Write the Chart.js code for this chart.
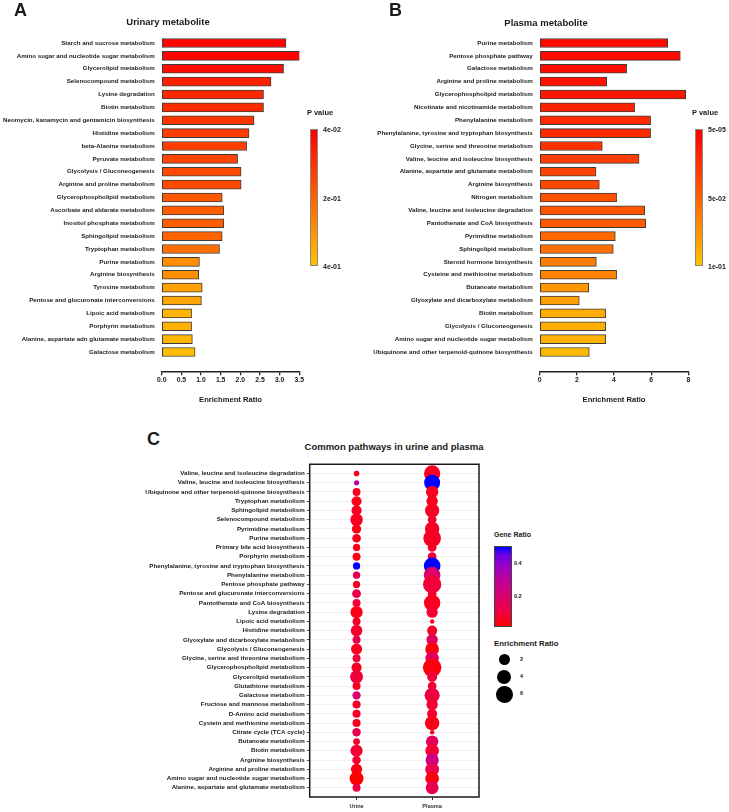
<!DOCTYPE html>
<html><head><meta charset="utf-8">
<script src="https://cdn.jsdelivr.net/npm/chart.js@4.4.0/dist/chart.umd.min.js"></script>
<style>
html,body{margin:0;padding:0;background:#fff;}
#root{position:relative;width:729px;height:812px;overflow:hidden;font-family:"Liberation Sans",Arial,sans-serif;color:#1a1a1a;background:#fff;}
.abs{position:absolute;white-space:nowrap;}
canvas{position:absolute;}
</style></head>
<body><div id="root">
<canvas id="cA" width="310" height="411" style="left:0;top:0;width:310px;height:411px"></canvas>
<canvas id="cB" width="340" height="411" style="left:360px;top:0;width:340px;height:411px"></canvas>
<canvas id="cC" width="490" height="357" style="left:0;top:455px;width:490px;height:357px"></canvas>
</div>
<script>
// ---------------- DATA ----------------
const urineLabels = ['Starch and sucrose metabolism','Amino sugar and nucleotide sugar metabolism','Glycerolipid metabolism','Selenocompound metabolism','Lysine degradation','Biotin metabolism','Neomycin, kanamycin and gentamicin biosynthesis','Histidine metabolism','beta-Alanine metabolism','Pyruvate metabolism','Glycolysis / Gluconeogenesis','Arginine and proline metabolism','Glycerophospholipid metabolism','Ascorbate and aldarate metabolism','Inositol phosphate metabolism','Sphingolipid metabolism','Tryptophan metabolism','Purine metabolism','Arginine biosynthesis','Tyrosine metabolism','Pentose and glucuronate interconversions','Lipoic acid metabolism','Porphyrin metabolism','Alanine, aspartate adn glutamate metabolism','Galactose metabolism'];
const urineEnrichment = [3.16,3.72,3.10,2.78,2.59,2.59,2.35,2.22,2.16,1.93,2.02,2.02,1.54,1.58,1.58,1.54,1.47,0.96,0.94,1.03,1.01,0.76,0.76,0.78,0.85];
const urinePValue = [0.045,0.05,0.065,0.1,0.112,0.118,0.138,0.149,0.153,0.168,0.175,0.176,0.205,0.213,0.214,0.224,0.246,0.303,0.306,0.34,0.344,0.37,0.371,0.378,0.389];
const urineAxisTicks = [0,0.5,1,1.5,2,2.5,3,3.5];
const urinePLegend = ['4e-02','2e-01','4e-01'];
const urinePRange = [0.04,0.4];

const plasmaLabels = ['Purine metabolism','Pentose phosphate pathway','Galactose metabolism','Arginine and proline metabolism','Glycerophospholipid metabolism','Nicotinate and nicotinamide metabolism','Phenylalanine metabolism','Phenylalanine, tyrosine and tryptophan biosynthesis','Glycine, serine and threonine metabolism','Valine, leucine and isoleucine biosynthesis','Alanine, aspartate and glutamate metabolism','Arginine biosynthesis','Nitrogen metabolism','Valine, leucine and isoleucine degradation','Pantothenate and CoA biosynthesis','Pyrimidine metabolism','Sphingolipid metabolism','Steroid hormone biosynthesis','Cysteine and methionine metabolism','Butanoate metabolism','Glyoxylate and dicarboxylate metabolism','Biotin metabolism','Glycolysis / Gluconeogenesis','Amino sugar and nucleotide sugar metabolism','Ubiquinone and other terpenoid-quinone biosynthesis'];
const plasmaEnrichment = [6.89,7.57,4.68,3.61,7.86,5.11,5.97,5.97,3.37,5.35,3.03,3.21,4.14,5.65,5.71,4.07,3.96,3.05,4.14,2.64,2.13,3.55,3.55,3.55,2.67];
const plasmaPValue = [0.0042,0.0052,0.0073,0.0094,0.0115,0.0177,0.0208,0.0219,0.025,0.0313,0.0344,0.0365,0.0417,0.0438,0.0458,0.0542,0.0573,0.0646,0.0677,0.0771,0.0823,0.0885,0.0896,0.0906,0.0948];
const plasmaAxisTicks = [0,2,4,6,8];
const plasmaPLegend = ['5e-05','5e-02','1e-01'];
const plasmaPRange = [0.00005,0.1];

const commonPathways = ['Valine, leucine and isoleucine degradation','Valine, leucine and isoleucine biosynthesis','Ubiquinone and other terpenoid-quinone biosynthesis','Tryptophan metabolism','Sphingolipid metabolism','Selenocompound metabolism','Pyrimidine metabolism','Purine metabolism','Primary bile acid biosynthesis','Porphyrin metabolism','Phenylalanine, tyrosine and tryptophan biosynthesis','Phenylalanine metabolism','Pentose phosphate pathway','Pentose and glucuronate interconversions','Pantothenate and CoA biosynthesis','Lysine degradation','Lipoic acid metabolism','Histidine metabolism','Glyoxylate and dicarboxylate metabolism','Glycolysis / Gluconeogenesis','Glycine, serine and threonine metabolism','Glycerophospholipid metabolism','Glycerolipid metabolism','Glutathione metabolism','Galactose metabolism','Fructose and mannose metabolism','D-Amino acid metabolism','Cystein and methionine metabolism','Citrate cycle (TCA cycle)','Butanoate metabolism','Biotin metabolism','Arginine biosynthesis','Arginine and proline metabolism','Amino sugar and nucleotide sugar metabolism','Alanine, aspartate and glutamate metabolism'];
const sampleNames = ['Urine','Plasma'];
const commonUrineER = [0.35,0.32,0.75,1.47,1.54,2.78,1.2,0.96,0.6,0.76,0.6,0.6,0.6,1.01,0.77,2.59,0.76,2.22,0.77,2.02,0.77,1.54,3.10,0.77,0.85,0.8,0.8,0.8,0.9,0.5,2.59,0.94,2.02,3.72,0.78];
const commonPlasmaER = [5.65,5.35,2.67,2.1,3.96,1.0,4.07,6.89,1.0,1.0,5.97,5.97,7.57,1.0,5.71,2.1,0.3,1.5,2.13,3.55,3.37,7.86,1.5,1.0,4.68,2.1,1.5,4.14,0.3,2.64,3.55,3.21,3.61,3.55,3.03];
const commonUrineGene = [0.05,0.33,0.05,0.04,0.06,0.05,0.04,0.05,0.04,0.04,0.51,0.15,0.06,0.13,0.1,0.04,0.08,0.07,0.13,0.05,0.1,0.06,0.1,0.06,0.2,0.07,0.06,0.06,0.15,0.07,0.08,0.08,0.04,0.02,0.12];
const commonPlasmaGene = [0.05,0.51,0.05,0.05,0.06,0.07,0.06,0.06,0.06,0.1,0.51,0.2,0.1,0.07,0.05,0.08,0.05,0.07,0.17,0.03,0.17,0.03,0.1,0.08,0.11,0.09,0.07,0.04,0.06,0.17,0.09,0.25,0.13,0.03,0.15];
const geneLegendTicks = [0.2,0.4];
const sizeLegendBreaks = [2,4,6];

// ---------------- HELPERS ----------------
const FONT = '"Liberation Sans", Arial, sans-serif';
const INK = '#1a1a1a';
const root = document.getElementById('root');
function addText(str, x, y, size, opts={}) {
  const d = document.createElement('div');
  d.className = 'abs';
  d.textContent = str;
  d.style.fontSize = size + 'px';
  d.style.lineHeight = '1';
  d.style.fontWeight = opts.weight || 'bold';
  d.style.color = opts.color || INK;
  d.style.left = x + 'px'; d.style.top = y + 'px';
  const tx = opts.align === 'center' ? '-50%' : opts.align === 'right' ? '-100%' : '0';
  d.style.transform = `translate(${tx},-50%)`;
  root.appendChild(d);
  return d;
}
function addBox(x, y, w, h, style) {
  const d = document.createElement('div');
  d.className = 'abs';
  Object.assign(d.style, {left:x+'px', top:y+'px', width:w+'px', height:h+'px', boxSizing:'border-box'}, style);
  root.appendChild(d);
  return d;
}
const RED = [255,0,0], GOLD = [255,194,0];
function mixRgb(a,b,t){t=Math.max(0,Math.min(1,t));return `rgb(${Math.round(a[0]+(b[0]-a[0])*t)},${Math.round(a[1]+(b[1]-a[1])*t)},${Math.round(a[2]+(b[2]-a[2])*t)})`;}
function pColor(p, range){ return mixRgb(RED, GOLD, (p-range[0])/(range[1]-range[0])); }

// Lab interpolation (red -> blue), as ggplot gradients
function s2l(c){c/=255;return c<=0.04045?c/12.92:Math.pow((c+0.055)/1.055,2.4);}
function l2s(c){c=c<=0.0031308?12.92*c:1.055*Math.pow(c,1/2.4)-0.055;return Math.round(Math.max(0,Math.min(1,c))*255);}
const Xn=0.95047,Yn=1,Zn=1.08883;
function fl(t){return t>0.008856?Math.cbrt(t):7.787*t+16/116;}
function fi(t){return t>0.206893?t*t*t:(t-16/116)/7.787;}
function rgb2lab(c){const r=s2l(c[0]),g=s2l(c[1]),b=s2l(c[2]);
  const X=(0.4124*r+0.3576*g+0.1805*b)/Xn,Y=(0.2126*r+0.7152*g+0.0722*b)/Yn,Z=(0.0193*r+0.1192*g+0.9505*b)/Zn;
  return [116*fl(Y)-16,500*(fl(X)-fl(Y)),200*(fl(Y)-fl(Z))];}
function lab2rgb(l){const fy=(l[0]+16)/116,fx=fy+l[1]/500,fz=fy-l[2]/200;
  const X=Xn*fi(fx),Y=Yn*fi(fy),Z=Zn*fi(fz);
  return [l2s(3.2406*X-1.5372*Y-0.4986*Z),l2s(-0.9689*X+1.8758*Y+0.0415*Z),l2s(0.0557*X-0.2040*Y+1.0570*Z)];}
const labLow = rgb2lab([255,0,0]), labHigh = rgb2lab([0,0,255]);
const allGene = commonUrineGene.concat(commonPlasmaGene);
const geneMin = Math.min(...allGene), geneMax = Math.max(...allGene);
function geneColor(v){const t=Math.max(0,Math.min(1,(v-geneMin)/(geneMax-geneMin)));
  const l=[0,1,2].map(i=>labLow[i]+(labHigh[i]-labLow[i])*t);const c=lab2rgb(l);return `rgb(${c[0]},${c[1]},${c[2]})`;}
const allER = commonUrineER.concat(commonPlasmaER);
const erMin = Math.min(...allER), erMax = Math.max(...allER);
function erDiameter(v){return 4.5 + 14*Math.sqrt(Math.max(0,(v-erMin))/(erMax-erMin));}

const noInteract = {responsive:false, animation:false, events:[], devicePixelRatio:1};

// ---------------- BAR CHARTS ----------------
function barChart(id, labels, values, pvals, prange, ticksArr, fmt, yWidth, padRight) {
  return new Chart(document.getElementById(id), {
    type:'bar',
    data:{labels:[...labels,''], datasets:[{data:values, backgroundColor:pvals.map(p=>pColor(p,prange)),
      borderColor:'#3c3c3c', borderWidth:1, borderSkipped:false, barThickness:9}]},
    options:Object.assign({}, noInteract, {
      indexAxis:'y',
      layout:{padding:{top:36.56,right:padRight,left:0,bottom:0}},
      plugins:{legend:{display:false}, tooltip:{enabled:false}},
      scales:{
        x:{type:'linear', min:ticksArr[0], max:ticksArr[ticksArr.length-1],
          afterBuildTicks:s=>{s.ticks=ticksArr.map(v=>({value:v}));},
          ticks:{callback:fmt, font:{family:FONT, size:6.8, weight:'bold'}, color:INK, padding:1, maxRotation:0, autoSkip:false},
          grid:{display:true, drawOnChartArea:false, tickLength:4, color:'#222', lineWidth:1.3},
          border:{display:true, color:'#222', width:1.5},
          title:{display:true, text:'Enrichment Ratio', font:{family:FONT, size:7.6, weight:'bold'}, color:INK, padding:{top:0,bottom:7}},
          afterFit:s=>{s.height=39.7;}},
        y:{ticks:{font:{family:FONT, size:6.2, weight:'bold'}, color:INK, padding:7, autoSkip:false},
          grid:{display:false, drawTicks:false}, border:{display:false},
          afterFit:s=>{s.width=yWidth;}}
      }
    })
  });
}
barChart('cA', urineLabels, urineEnrichment, urinePValue, urinePRange, urineAxisTicks, v=>Number(v).toFixed(1), 161.7, 10.7);
barChart('cB', plasmaLabels, plasmaEnrichment, plasmaPValue, plasmaPRange, plasmaAxisTicks, v=>String(v), 179.7, 11.7);

// ---------------- DOT PLOT ----------------
const framePlugin = {id:'frame', afterDraw(chart){const a=chart.chartArea, c=chart.ctx;
  c.save(); c.strokeStyle='#1a1a1a'; c.lineWidth=1.5; c.strokeRect(a.left,a.top,a.right-a.left,a.bottom-a.top); c.restore();}};
function dotDataset(sampleIndex, erArr, geneArr){
  return {label:sampleNames[sampleIndex], data:commonPathways.map((_,i)=>({x:sampleIndex,y:i})),
    pointRadius:ctx=>erDiameter(erArr[ctx.dataIndex])/2,
    pointBackgroundColor:ctx=>geneColor(geneArr[ctx.dataIndex]),
    pointBorderWidth:0, pointBorderColor:'rgba(0,0,0,0)'};
}
new Chart(document.getElementById('cC'), {
  type:'scatter',
  data:{datasets:[dotDataset(0, commonUrineER, commonUrineGene), dotDataset(1, commonPlasmaER, commonPlasmaGene)]},
  options:Object.assign({}, noInteract, {
    layout:{padding:{top:5.3,right:11,left:0,bottom:0}},
    plugins:{legend:{display:false}, tooltip:{enabled:false}},
    scales:{
      x:{type:'linear', min:-0.62, max:1.62,
        afterBuildTicks:s=>{s.ticks=sampleNames.map((_,i)=>({value:i}));},
        ticks:{callback:v=>sampleNames[v], font:{family:FONT, size:5.6, weight:'bold'}, color:'#333', padding:3, maxRotation:0, autoSkip:false},
        grid:{display:true, drawOnChartArea:false, tickLength:3, tickColor:'#333', color:'#333'},
        border:{display:false},
        afterFit:s=>{s.height=15;}},
      y:{type:'linear', min:-1, max:commonPathways.length, reverse:true,
        afterBuildTicks:s=>{s.ticks=commonPathways.map((_,i)=>({value:i}));},
        ticks:{callback:v=>commonPathways[v], font:{family:FONT, size:6.2, weight:'bold'}, color:INK, padding:2, autoSkip:false},
        grid:{display:true, drawOnChartArea:true, color:'#ececec', lineWidth:0.8, tickLength:3, tickColor:'#333'},
        border:{display:false},
        afterFit:s=>{s.width=309.7;}}
    }
  }),
  plugins:[framePlugin]
});

// ---------------- TEXT & LEGENDS ----------------
addText('A', 14, 10, 18);
addText('B', 389, 10, 18);
addText('C', 147, 439, 18);
addText('Urinary metabolite', 168, 22, 9.5, {align:'center'});
addText('Plasma metabolite', 546, 23, 9.5, {align:'center'});
addText('Common pathways in urine and plasma', 394, 447, 9.5, {align:'center'});

function pLegend(x, labels, range) {
  addText('P value', x-3, 113, 7.5);
  addBox(x, 128.7, 8, 137.3, {background:`linear-gradient(to bottom, ${pColor(range[0],range)}, ${pColor(range[1],range)})`, border:'0.7px solid #888'});
  const ys = [128.7, 197.7, 266];
  labels.forEach((t,i)=>addText(t, x+13, ys[i], 7));
}
pLegend(310, urinePLegend, urinePRange);
pLegend(695, plasmaPLegend, plasmaPRange);

// Gene ratio colour bar
addText('Gene Ratio', 494, 533.5, 7);
const gTop = 546, gBot = 626.5;
const stops = [];
for (let k=0;k<=10;k++){const v=geneMax-(geneMax-geneMin)*k/10; stops.push(`${geneColor(v)} ${k*10}%`);}
addBox(494, gTop, 17.5, gBot-gTop, {background:`linear-gradient(to bottom, ${stops.join(',')})`, border:'0.7px solid #444'});
geneLegendTicks.forEach(v=>{
  const y = gBot - (v-geneMin)/(geneMax-geneMin)*(gBot-gTop);
  addText(String(v), 514, y, 5.5);
});
addText('Enrichment Ratio', 494, 644.3, 7.8);
const sizeYs = [659.5, 676.7, 694.3];
sizeLegendBreaks.forEach((v,i)=>{
  const d = erDiameter(v);
  addBox(504.3-d/2, sizeYs[i]-d/2, d, d, {background:'#000', borderRadius:'50%'});
  addText(String(v), 520, sizeYs[i], 5.5);
});
</script>
</body></html>
